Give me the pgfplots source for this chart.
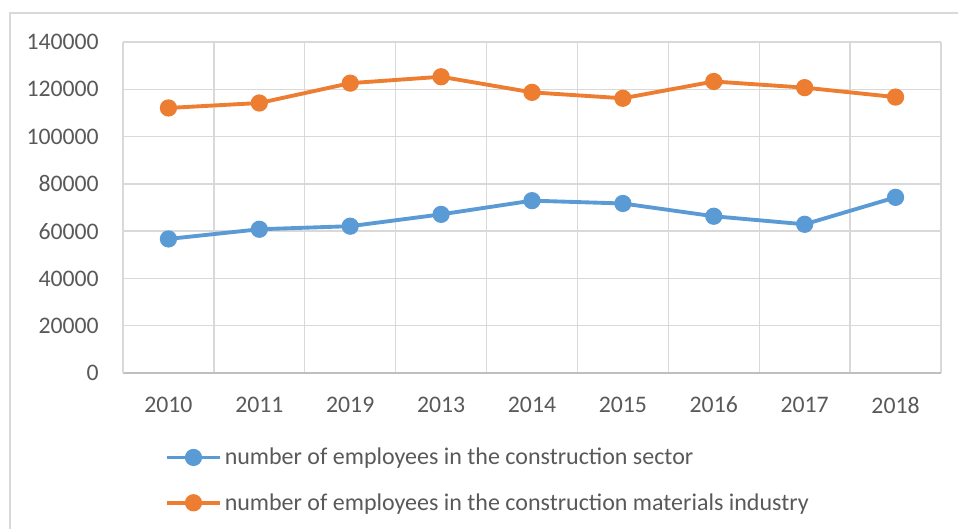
\documentclass[border=0pt]{standalone}
\usepackage{fontspec}
\setmainfont{Carlito}
\usepackage{pgfplots}
\pgfplotsset{compat=1.18}
\definecolor{serblue}{HTML}{5B9BD5}
\definecolor{serorange}{HTML}{ED7D31}
\definecolor{gridgray}{HTML}{D9D9D9}
\definecolor{axisgray}{HTML}{BFBFBF}
\definecolor{txtgray}{HTML}{595959}

\begin{document}
\begin{tikzpicture}
% page is 958 x 529 px at 0.75pt per px
\useasboundingbox (0pt,0pt) rectangle (718.5pt,-396.75pt);
\draw[gridgray, line width=1.3pt] (7.5pt,-396.75pt) -- (7.5pt,-9.75pt) -- (718.5pt,-9.75pt);
\begin{axis}[
    at={(92.25pt,-279.75pt)},
    anchor=south west,
    scale only axis,
    width=613.5pt,
    height=248.25pt,
    xmin=-0.5, xmax=8.5,
    ymin=0, ymax=140000,
    xtick={0,...,8},
    xticklabels={2010,2011,2019,2013,2014,2015,2016,2017,2018},
    minor xtick={-0.5,0.5,...,8.5},
    ytick={0,20000,40000,60000,80000,100000,120000,140000},
    yticklabels={0,20000,40000,60000,80000,100000,120000,140000},
    major tick length=0pt,
    minor tick length=0pt,
    ymajorgrids,
    xminorgrids,
    major grid style={gridgray, line width=1pt},
    minor grid style={gridgray, line width=1pt},
    separate axis lines,
    axis x line*=bottom,
    axis y line*=left,
    x axis line style={axisgray, line width=1pt, -},
    y axis line style={gridgray, line width=1pt, -},
    scaled y ticks=false,
    tick label style={font=\fontsize{17.8}{21}\selectfont, text=txtgray, inner sep=0pt},
    xticklabel style={anchor=center, yshift=-24pt},
    yticklabel style={anchor=east, xshift=-18pt},
    legend style={draw=none, fill=none, at={(axis description cs:0.046,-0.21)},
        anchor=north west, font=\fontsize{18}{21}\selectfont, text=txtgray,
        row sep=16pt},
    legend cell align=left,
    legend image code/.code={\draw[mark repeat=2,mark phase=2,#1] plot coordinates {(0pt,0pt) (20pt,0pt) (40pt,0pt)};},
    clip=false
]
\addplot[serblue, line width=2.9pt, mark=*, mark size=5pt] coordinates {
    (0,56700) (1,60800) (2,62100) (3,67100) (4,72900)
    (5,71700) (6,66300) (7,62900) (8,74300)
};
\addlegendentry{number of employees in the construction sector}
\addplot[serorange, line width=2.9pt, mark=*, mark size=5pt] coordinates {
    (0,112100) (1,114200) (2,122600) (3,125300) (4,118700)
    (5,116200) (6,123300) (7,120700) (8,116700)
};
\addlegendentry{number of employees in the construction materials industry}
\end{axis}
\end{tikzpicture}
\end{document}
